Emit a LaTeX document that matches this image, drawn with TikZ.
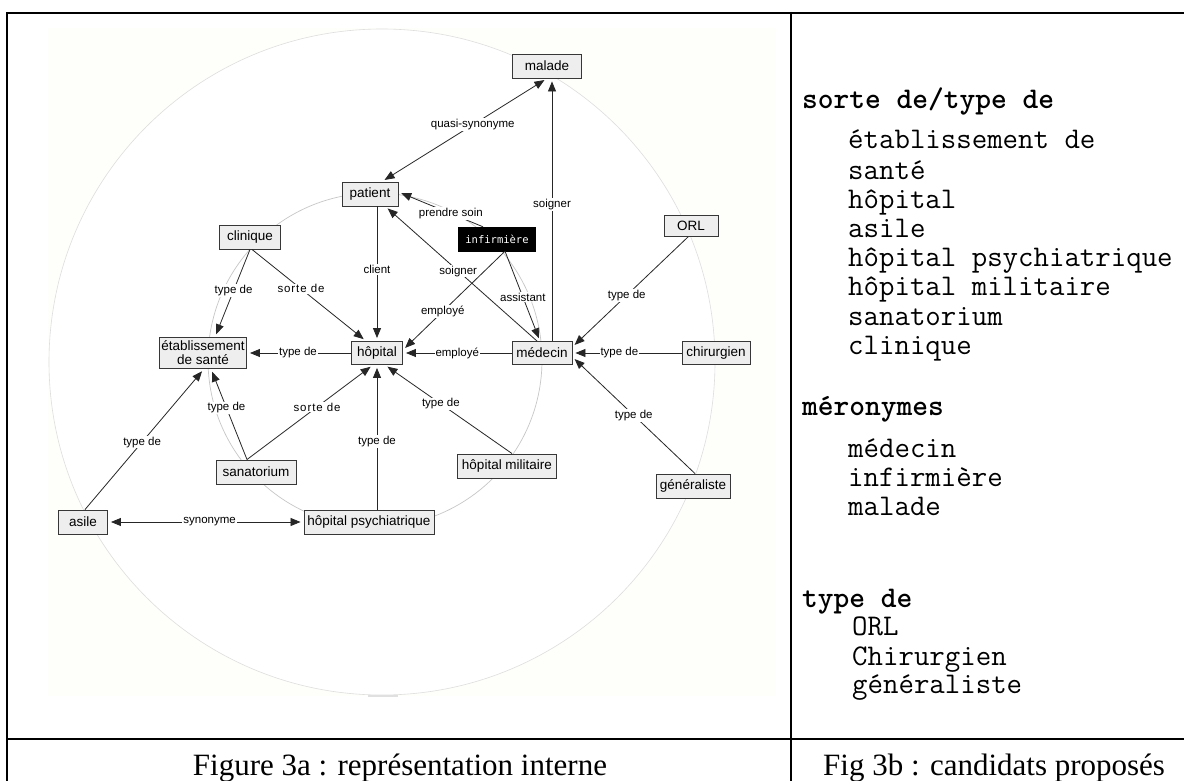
\documentclass[tikz,border=0pt]{standalone}
\usepackage{fontspec}
\usetikzlibrary{arrows.meta}
\newfontfamily\hel{Liberation Sans}
\newfontfamily\helsp[LetterSpace=8]{Liberation Sans}
\newfontfamily\dvm{DejaVu Sans Mono}
\newfontfamily\tim{Liberation Serif}
\newcommand\sortede{{\helsp sorte de}}
\definecolor{pale}{RGB}{254,254,250}
\definecolor{boxfill}{RGB}{238,238,238}
\definecolor{boxdraw}{RGB}{55,55,55}
\tikzset{
 concept/.style={draw=boxdraw, fill=boxfill, line width=0.9pt, inner sep=1pt, minimum height=24pt,
   font=\hel\fontsize{13.5}{14}\selectfont, align=center},
 blackbox/.style={draw=black, fill=black, text=white, inner sep=1pt, minimum height=24pt,
   font=\dvm\fontsize{10.5}{12}\selectfont},
 rel/.style={draw=black!85, line width=0.8pt, -{Triangle[length=10pt,width=8pt]}, shorten >=3pt},
 birel/.style={draw=black!85, line width=0.8pt, {Triangle[length=10pt,width=8pt]}-{Triangle[length=10pt,width=8pt]}, shorten >=3pt, shorten <=3pt},
 lbl/.style={fill=white, inner sep=1pt, font=\hel\fontsize{11.5}{12}\selectfont, text=black},
 frame/.style={line width=2pt, draw=black},
 ringline/.style={draw=black!13, line width=0.6pt},
 head/.style={anchor=base west, inner sep=0pt, font=\ttfamily\bfseries\fontsize{30}{30}\selectfont},
 item/.style={anchor=base west, inner sep=0pt, font=\ttfamily\fontsize{30}{30}\selectfont},
 caption/.style={inner sep=0pt, font=\tim\fontsize{31}{31}\selectfont}
}
\begin{document}
\begin{tikzpicture}[x=1pt,y=-1pt]
\useasboundingbox (0,0) rectangle (1184,781);
% background of figure 3a
\fill[pale] (48,28) rectangle (776,696);
\draw[ringline, fill=white] (382,362) circle[radius=333];
\draw[draw=black!22, line width=0.7pt] (375,360) circle[radius=167];
\draw[black!12, line width=2pt] (368,696) -- (398,696);

% concepts
\node[concept, minimum width=69pt] (malade) at (547,66) {malade};
\node[concept, minimum width=56pt] (patient) at (370,194) {patient};
\node[concept, minimum width=61pt] (clinique) at (250,237) {clinique};
\node[blackbox, minimum width=77pt] (infirm) at (497,239) {infirmière};
\node[concept, minimum width=54pt, minimum height=21pt] (orl) at (691,226) {ORL};
\node[concept, minimum width=87pt, minimum height=31pt] (etab) at (203,353) {établissement\\de santé};
\node[concept, minimum width=51pt, minimum height=23pt] (hopital) at (377,353) {hôpital};
\node[concept, minimum width=60pt, minimum height=23pt] (medecin) at (542,353) {médecin};
\node[concept, minimum width=68pt, minimum height=23pt] (chir) at (716,353) {chirurgien};
\node[concept, minimum width=80pt] (sana) at (256,472) {sanatorium};
\node[concept, minimum width=99pt] (hmil) at (507,466) {hôpital militaire};
\node[concept, minimum width=74pt] (gen) at (693,486) {généraliste};
\node[concept, minimum width=49pt] (asile) at (83,522) {asile};
\node[concept, minimum width=130pt] (hpsych) at (369,522) {hôpital psychiatrique};

% relations
\draw[birel] ([xshift=12pt]patient.north) -- (malade.south) node[lbl,pos=0.55] {quasi-synonyme};
\draw[rel] ([xshift=10pt]medecin.north) -- ([xshift=5pt]malade.south) node[lbl,pos=0.52] {soigner};
\draw[rel] ([xshift=-14pt]infirm.north) -- ([yshift=2pt]patient.east) node[lbl,pos=0.38] {prendre soin};
\draw[rel] ([xshift=-5pt]medecin.north) -- ([xshift=-13pt]patient.south east) node[lbl,pos=0.52] {soigner};
\draw[rel] ([xshift=7pt]patient.south) -- (hopital.north) node[lbl,pos=0.47] {client};
\draw[rel] (clinique.south) -- ([xshift=12pt]etab.north) node[lbl,pos=0.47] {type de};
\draw[rel] ([xshift=2pt]clinique.south) -- ([xshift=15pt]hopital.north west) node[lbl,pos=0.43] {\sortede};
\draw[rel] ([xshift=8pt]infirm.south) -- ([yshift=3pt]hopital.east) node[lbl,pos=0.61] {employé};
\draw[rel] ([xshift=8pt]infirm.south) -- ([xshift=-2pt]medecin.north) node[lbl,pos=0.51] {assistant};
\draw[rel] (hopital.west) -- (etab.east) node[lbl,pos=0.51] {type de};
\draw[rel] (medecin.west) -- (hopital.east) node[lbl,pos=0.5] {employé};
\draw[rel] ([xshift=-3pt]orl.south) -- ([yshift=6pt]medecin.east) node[lbl,pos=0.53] {type de};
\draw[rel] (chir.west) -- (medecin.east) node[lbl,pos=0.57] {type de};
\draw[rel] ([xshift=2pt]gen.north) -- ([yshift=-4pt]medecin.east) node[lbl,pos=0.5] {type de};
\draw[rel] ([xshift=-9pt]sana.north) -- ([xshift=8pt]etab.south) node[lbl,pos=0.57] {type de};
\draw[rel] ([xshift=-9pt]sana.north) -- ([xshift=-4pt]hopital.south) node[lbl,pos=0.556] {\sortede};
\draw[rel] ([xshift=8pt]hpsych.north) -- (hopital.south) node[lbl,pos=0.47] {type de};
\draw[rel] ([xshift=5pt]hmil.north) -- ([xshift=8pt]hopital.south) node[lbl,pos=0.56] {type de};
\draw[rel] ([xshift=2pt]asile.north) -- ([xshift=1pt]etab.south) node[lbl,pos=0.48] {type de};
\draw[birel] (asile.east) -- (hpsych.west) node[lbl,pos=0.52] {synonyme};

% table frame
\draw[frame] (1190,13) -- (7,13) -- (7,790);
\draw[frame] (791,12) -- (791,790);
\draw[frame] (6,739) -- (1190,739);

% right panel
\node[head] (h1) at (802,109) {sorte de/type de};
\node[item] (i1) at (848,149) {établissement de};
\node[item] (i2) at (848,179) {santé};
\node[item] (i3) at (848,208) {hôpital};
\node[item] (i4) at (848,237) {asile};
\node[item] (i5) at (848,266) {hôpital psychiatrique};
\node[item] (i6) at (848,295) {hôpital militaire};
\node[item] (i7) at (848,325) {sanatorium};
\node[item] (i8) at (848,354) {clinique};
\node[head] (h2) at (802,415) {méronymes};
\node[item] (m1) at (848,457) {médecin};
\node[item] (m2) at (848,486) {infirmière};
\node[item] (m3) at (848,515) {malade};
\node[head] (h3) at (802,607) {type de};
\node[item] (t1) at (852,635) {ORL};
\node[item] (t2) at (852,665) {Chirurgien};
\node[item] (t3) at (852,693) {généraliste};

% captions
\node[caption, anchor=base] (capa) at (400,775) {Figure 3a : représentation interne};
\node[caption, anchor=base west] (capb) at (823,775) {Fig 3b : candidats proposés};
\end{tikzpicture}
\end{document}
